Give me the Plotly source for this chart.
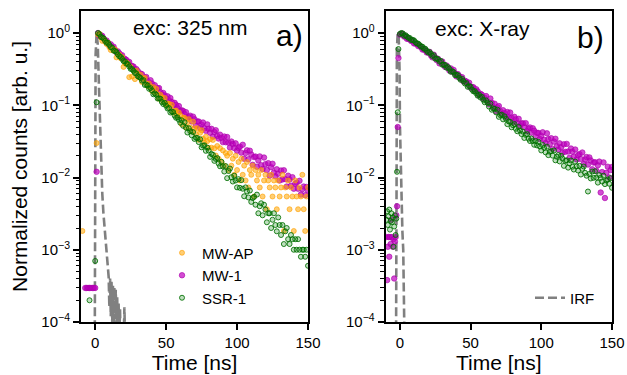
import plotly.graph_objects as go

# ---------------- data ----------------
# Panel a) exc: 325 nm  -- decay part, one value per ns starting at t = 2 ns
A_START = 2
a_mwap = [0.955, 0.979, 0.867, 0.778, 0.830, 0.773, 0.704, 0.737, 0.635, 0.58,
          0.626, 0.570, 0.592, 0.46, 0.508, 0.503, 0.446, 0.466, 0.34, 0.379,
          0.393, 0.381, 0.245, 0.341, 0.25, 0.303, 0.23, 0.303, 0.275, 0.244,
          0.265, 0.210, 0.234, 0.240, 0.202, 0.184, 0.200, 0.180, 0.157, 0.179,
          0.151, 0.169, 0.143, 0.123, 0.140, 0.129, 0.113, 0.126, 0.102, 0.106,
          0.105, 0.0925, 0.1016, 0.0790, 0.0837, 0.0847, 0.0714, 0.0792, 0.0723, 0.0546,
          0.0670, 0.0671, 0.0491, 0.0579, 0.0643, 0.0492, 0.0434, 0.0592, 0.0481, 0.0400,
          0.0481, 0.0332, 0.0416, 0.0452, 0.0345, 0.0305, 0.0367, 0.0318, 0.0258, 0.0339,
          0.0259, 0.0331, 0.0253, 0.0202,
          0.0273, 0.0182, 0.0255, 0.0164, 0.0237, 0.0146, 0.0218, 0.0200, 0.0127, 0.0218,
          0.0146, 0.0182, 0.0109, 0.0200, 0.0127, 0.0164, 0.0091, 0.0182, 0.0109, 0.0146,
          0.0091, 0.0164, 0.00728, 0.0127, 0.0109, 0.0146, 0.00546, 0.0127, 0.0091, 0.0109,
          0.00728, 0.0127, 0.00546, 0.0091, 0.0109, 0.00364, 0.0091, 0.00728, 0.0109, 0.00546,
          0.0091, 0.00728, 0.00364, 0.0091, 0.00546, 0.00728, 0.0109, 0.00182, 0.00728, 0.00546,
          0.0091, 0.00364, 0.00728, 0.00546, 0.00182, 0.0091, 0.00546, 0.00364, 0.00728, 0.00546,
          0.0109, 0.00364, 0.00182, 0.00546, 0.00728]
a_mwap_pre_t = [-9, 1]
a_mwap_pre = [0.00182, 0.03]

a_mw1 = [1.0, 0.913, 0.929, 0.913, 0.832, 0.781, 0.787, 0.736, 0.679, 0.697,
         0.634, 0.646, 0.587, 0.540, 0.557, 0.524, 0.486, 0.493, 0.440, 0.438,
         0.425, 0.393, 0.398, 0.351, 0.350, 0.343, 0.312, 0.317, 0.298, 0.260,
         0.275, 0.269, 0.233, 0.242, 0.246, 0.217, 0.201, 0.222, 0.200, 0.181,
         0.190, 0.161, 0.171, 0.173, 0.152, 0.141, 0.148, 0.137, 0.123, 0.133,
         0.117, 0.126, 0.111, 0.0988, 0.108, 0.101, 0.0913, 0.0974, 0.0829, 0.0850,
         0.0836, 0.0758, 0.0803, 0.0667, 0.0689, 0.0717, 0.0598, 0.0696, 0.0640, 0.0520,
         0.0596, 0.0595, 0.0483, 0.0539, 0.0577, 0.0481, 0.0443, 0.0544, 0.0473, 0.0417,
         0.0472, 0.0368, 0.0427, 0.0452, 0.0377, 0.0346, 0.0392, 0.0355, 0.0309, 0.0369,
         0.0308, 0.0364, 0.0304, 0.0260, 0.0315, 0.0290, 0.0256, 0.0297, 0.0235, 0.0257,
         0.0267, 0.0221, 0.0284, 0.0182, 0.0218, 0.0238, 0.0179, 0.0235, 0.0208, 0.0150,
         0.0192, 0.0195, 0.0141, 0.0172, 0.0196, 0.0148, 0.0131, 0.0189, 0.0153, 0.0127,
         0.0158, 0.0106, 0.0139, 0.0155, 0.0117, 0.0104, 0.0130, 0.0113, 0.0091, 0.0125,
         0.0094, 0.0126, 0.0095, 0.0075, 0.0106, 0.0094, 0.0077, 0.0101, 0.0070, 0.0082,
         0.0085, 0.0070, 0.0090, 0.0058, 0.0069, 0.0075, 0.0057, 0.0074, 0.0066]
a_mw1_pre_t = [-7, -6, -5, -4, -3, -2, -1, 0, 1]
a_mw1_pre = [2.96e-4, 2.96e-4, 2.96e-4, 2.96e-4, 2.96e-4, 2.96e-4, 2.96e-4, 2.96e-4, 0.012]

a_ssr1 = [1.0, 0.964, 0.885, 0.867, 0.842, 0.779, 0.733, 0.733, 0.683, 0.638,
          0.626, 0.571, 0.564, 0.546, 0.505, 0.476, 0.467, 0.439, 0.409, 0.406,
          0.376, 0.372, 0.344, 0.319, 0.318, 0.300, 0.280, 0.276, 0.253, 0.246,
          0.239, 0.219, 0.223, 0.191, 0.193, 0.188, 0.169, 0.173, 0.161, 0.142,
          0.146, 0.140, 0.124, 0.125, 0.123, 0.111, 0.104, 0.108, 0.0986, 0.0902,
          0.0916, 0.0794, 0.0817, 0.0805, 0.0720, 0.0671, 0.0681, 0.0630, 0.0573, 0.0620,
          0.0520, 0.0582, 0.0490, 0.0420, 0.0481, 0.0438, 0.0385, 0.0425, 0.0342, 0.0356,
          0.0352, 0.0309, 0.0338, 0.0262, 0.0277, 0.0279, 0.0234, 0.0259, 0.0236, 0.0193,
          0.0212, 0.0206, 0.0170, 0.0181, 0.0186, 0.0156, 0.0143, 0.0165, 0.0143, 0.0121,
          0.0144, 0.0098, 0.0123, 0.0133, 0.0101, 0.0088, 0.0106, 0.0091, 0.0073, 0.0095,
          0.0072, 0.0092, 0.0070, 0.0055, 0.0073, 0.0064, 0.0053, 0.0066, 0.0046, 0.0052,
          0.0054, 0.0042, 0.0058, 0.0032, 0.0040, 0.0044, 0.0030, 0.0042, 0.0036, 0.0024,
          0.0032, 0.0032, 0.0020, 0.0026, 0.0032, 0.0022, 0.0018, 0.0028, 0.0022, 0.0016,
          0.0022, 0.0012, 0.0018, 0.0020, 0.0014, 0.0012, 0.0016, 0.0014, 0.0010, 0.0014,
          0.0010, 0.0014, 0.0010, 0.0008, 0.0010, 0.0010, 0.0008, 0.0010, 0.0006]
a_ssr1_pre_t = [-4, 0, 1]
a_ssr1_pre = [2e-4, 7e-4, 0.11]

a_irf_t = [-0.4, -0.3, 0.3, 1.0, 1.8, 2.6, 3.4, 4.2, 5.0, 5.8, 6.5, 7.3, 8.1, 8.9,
           9.5, 10.0, 10.5, 11.0, 11.5, 12.0, 12.5, 13.0, 13.5, 14.0, 14.5, 15.0,
           15.5, 16.0, 16.5, 17.0, 17.5, 18.0, 19.0, 20.0, 20.6, 21.2, 22.0]
a_irf = [1e-5, 1e-4, 0.5, 1.0, 0.7, 0.2, 0.05, 0.0126, 0.006, 0.0032, 0.0021, 0.0012,
         0.0008, 0.00052, 0.00042, 0.00016, 0.0004, 0.00012, 0.00038, 0.0001, 0.00033,
         0.00009, 0.0003, 0.00011, 0.00028, 0.00008, 0.00022, 0.00007, 0.00018, 0.00006,
         0.00015, 0.00005, 0.00004, 0.00005, 0.00016, 0.00004, 0.00003]

# Panel b) exc: X-ray -- decay part, one value per ns starting at t = 0 ns
B_START = 0
b_mw1 = [0.95, 0.98, 0.97, 0.893, 0.904, 0.831, 0.831, 0.816, 0.775, 0.786,
         0.718, 0.718, 0.707, 0.659, 0.668, 0.637, 0.590, 0.594, 0.581, 0.538,
         0.539, 0.549, 0.490, 0.461, 0.502, 0.458, 0.422, 0.440, 0.380, 0.402,
         0.404, 0.362, 0.340, 0.355, 0.331, 0.303, 0.324, 0.291, 0.309, 0.277,
         0.251, 0.270, 0.254, 0.233, 0.245, 0.213, 0.218, 0.214, 0.196, 0.205,
         0.175, 0.179, 0.178, 0.159, 0.167, 0.156, 0.137, 0.144, 0.140, 0.123,
         0.127, 0.134, 0.113, 0.103, 0.124, 0.108, 0.0948, 0.105, 0.0826, 0.0939,
         0.0976, 0.0826, 0.0764, 0.0854, 0.0780, 0.0686, 0.0807, 0.0683, 0.0792, 0.0671,
         0.0582, 0.0692, 0.0638, 0.0567, 0.0649, 0.0521, 0.0559, 0.0564, 0.0501, 0.0566,
         0.0437, 0.0476, 0.0493, 0.0418, 0.0480, 0.0444, 0.0366, 0.0415, 0.0413, 0.0341,
         0.0377, 0.0423, 0.0333, 0.0300, 0.0409, 0.0340, 0.0289, 0.0350, 0.0249, 0.0314,
         0.0344, 0.0271, 0.0244, 0.0297, 0.0263, 0.0220, 0.0288, 0.0227, 0.0292, 0.0229,
         0.0188, 0.0252, 0.0228, 0.0194, 0.0244, 0.0178, 0.0204, 0.0211, 0.0180, 0.0222,
         0.0153, 0.0178, 0.0192, 0.0151, 0.0190, 0.0172, 0.0130, 0.0161, 0.0163, 0.0124,
         0.0148, 0.0166, 0.0062, 0.0119, 0.0162, 0.0052, 0.0116, 0.0141, 0.0100, 0.0127,
         0.0140]
b_mw1_pre_t = [-9.5, -9, -8.5, -8, -7.5, -7, -6.5, -6, -5.5, -5, -4.5, -4, -3.5, -3, -2.5,
               -2, -1.5, -1]
b_mw1_pre = [1.5e-3, 3.8e-4, 1.1e-3, 1.5e-3, 8e-4, 1.5e-3, 1.2e-3, 2.6e-3, 1.5e-3, 1.1e-3,
             1.4e-3, 4e-4, 1.3e-3, 1.5e-3, 3e-3, 0.004, 0.05, 0.45]

b_ssr1 = [0.97, 1.0, 0.99, 0.918, 0.933, 0.895, 0.857, 0.855, 0.801, 0.803,
          0.792, 0.748, 0.718, 0.713, 0.682, 0.649, 0.647, 0.608, 0.606, 0.569,
          0.537, 0.545, 0.516, 0.481, 0.492, 0.442, 0.443, 0.433, 0.403, 0.411,
          0.364, 0.366, 0.361, 0.331, 0.339, 0.320, 0.291, 0.296, 0.288, 0.262,
          0.264, 0.262, 0.239, 0.225, 0.233, 0.216, 0.200, 0.203, 0.180, 0.184,
          0.181, 0.165, 0.156, 0.157, 0.147, 0.136, 0.140, 0.128, 0.131, 0.119,
          0.110, 0.117, 0.108, 0.0960, 0.1057, 0.0868, 0.0904, 0.0895, 0.0798, 0.0869,
          0.0691, 0.0731, 0.0742, 0.0638, 0.0704, 0.0651, 0.0548, 0.0598, 0.0589, 0.0496,
          0.0530, 0.0550, 0.0473, 0.0437, 0.0502, 0.0446, 0.0400, 0.0432, 0.0353, 0.0389,
          0.0399, 0.0345, 0.0320, 0.0347, 0.0319, 0.0284, 0.0321, 0.0278, 0.0312, 0.0269,
          0.0237, 0.0282, 0.0257, 0.0223, 0.0267, 0.0204, 0.0227, 0.0232, 0.0201, 0.0237,
          0.0173, 0.0194, 0.0205, 0.0167, 0.0200, 0.0183, 0.0145, 0.0171, 0.0173, 0.0137,
          0.0157, 0.0172, 0.0141, 0.0129, 0.0166, 0.0143, 0.0125, 0.0145, 0.0110, 0.0132,
          0.0142, 0.0116, 0.0106, 0.0064, 0.0112, 0.0097, 0.0121, 0.0099, 0.0122, 0.0100,
          0.0085, 0.0108, 0.0099, 0.0088, 0.0106, 0.0081, 0.0091, 0.0094, 0.0082, 0.0098,
          0.0072]
b_ssr1_pre_t = [-9.5, -9, -8.5, -8, -7.5, -7, -6.5, -6, -5.5, -5, -4.5, -4, -3.5, -3, -2.5,
                -2, -1.5, -1]
b_ssr1_pre = [2.6e-3, 3.4e-3, 2.2e-3, 2.9e-3, 3.6e-3, 1.9e-3, 2.5e-3, 3.2e-3, 2.4e-3, 2.8e-3,
              1.1e-3, 2.1e-3, 3.0e-3, 1.6e-3, 2.7e-3, 0.012, 0.08, 0.6]

b_irf_t = [-2.8, -2.5, -2.3, -2.1, -1.5, -0.8, -0.2, 0.1, 0.5, 1.2, 1.8, 2.4, 3.0, 3.5, 3.8]
b_irf = [1e-5, 1e-4, 0.01, 0.6, 1.0, 0.9, 0.3, 0.05, 0.017, 0.0035, 0.0018, 0.001,
         0.00038, 0.0001, 1e-5]

ytick_vals = [1e-4, 1e-3, 1e-2, 1e-1, 1]
ytick_text = ["10<sup>\u22124</sup>", "10<sup>\u22123</sup>", "10<sup>\u22122</sup>",
              "10<sup>\u22121</sup>", "10<sup>0</sup>"]
xtick_vals = [0, 50, 100, 150]

# ---------------- styles ----------------
FONT = "Liberation Sans, Arial, sans-serif"
C_OR = dict(size=5, color="rgba(255,165,0,0.55)", line=dict(width=0.7, color="rgba(255,160,0,0.9)"))
C_MG = dict(size=5.5, color="rgba(191,0,191,0.7)", line=dict(width=0.7, color="rgba(170,0,170,0.9)"))
C_GR = dict(size=5, color="rgba(0,128,0,0.25)", line=dict(width=0.9, color="rgba(0,110,0,0.95)"))
IRF_LINE = dict(color="#808080", width=2.6, dash="9px,4px")


def grid(start, vals):
    return [start + i for i in range(len(vals))]


fig = go.Figure()

# panel a
fig.add_trace(go.Scatter(x=a_irf_t, y=a_irf, mode="lines", line=IRF_LINE, showlegend=False,
                         xaxis="x", yaxis="y"))
fig.add_trace(go.Scatter(x=a_mw1_pre_t + grid(A_START, a_mw1), y=a_mw1_pre + a_mw1,
                         mode="markers", marker=C_MG, name="MW-1", legend="legend",
                         legendrank=2, xaxis="x", yaxis="y"))
fig.add_trace(go.Scatter(x=a_mwap_pre_t + grid(A_START, a_mwap), y=a_mwap_pre + a_mwap,
                         mode="markers", marker=C_OR, name="MW-AP", legend="legend",
                         legendrank=1, xaxis="x", yaxis="y"))
fig.add_trace(go.Scatter(x=a_ssr1_pre_t + grid(A_START, a_ssr1), y=a_ssr1_pre + a_ssr1,
                         mode="markers", marker=C_GR, name="SSR-1", legend="legend",
                         legendrank=3, xaxis="x", yaxis="y"))

# panel b
fig.add_trace(go.Scatter(x=b_irf_t, y=b_irf, mode="lines", line=IRF_LINE, name="IRF",
                         legend="legend2", showlegend=True, xaxis="x2", yaxis="y2"))
fig.add_trace(go.Scatter(x=b_mw1_pre_t + grid(B_START, b_mw1), y=b_mw1_pre + b_mw1,
                         mode="markers", marker=C_MG, showlegend=False, xaxis="x2", yaxis="y2"))
fig.add_trace(go.Scatter(x=b_ssr1_pre_t + grid(B_START, b_ssr1), y=b_ssr1_pre + b_ssr1,
                         mode="markers", marker=C_GR, showlegend=False, xaxis="x2", yaxis="y2"))

minor_vals = [m * 10 ** e for e in range(-4, 0) for m in range(2, 10)]

xcommon = dict(range=[-10, 150], tickvals=xtick_vals, showline=True, linecolor="black",
               linewidth=2, mirror=True, ticks="outside", ticklen=6, tickwidth=2,
               tickcolor="black", showgrid=False, zeroline=False, automargin=False,
               tickfont=dict(size=15, color="black", family=FONT),
               title=dict(text="Time [ns]", font=dict(size=21, color="black", family=FONT),
                          standoff=3))
ycommon = dict(type="log", range=[-4, 0.305], tickvals=ytick_vals, ticktext=ytick_text,
               showline=True, linecolor="black", linewidth=2, mirror=True, ticks="outside",
               ticklen=6, tickwidth=2, tickcolor="black", showgrid=False, zeroline=False,
               automargin=False,
               tickfont=dict(size=15, color="black", family=FONT),
               minor=dict(tickvals=minor_vals, ticks="outside", ticklen=3.5, tickwidth=1.3,
                          tickcolor="black", showgrid=False))

L, R, T, B = 81, 15, 11, 53
PW = 627 - L - R
PH = 375 - T - B


def px(xp):
    return (xp - L) / PW


def py(yp):
    return (375 - B - yp) / PH


fig.update_layout(
    width=627, height=375,
    margin=dict(l=L, r=R, t=T, b=B, autoexpand=False),
    paper_bgcolor="white", plot_bgcolor="white",
    font=dict(family=FONT, color="black"),
    xaxis=dict(domain=[0, px(308)], anchor="y", **xcommon),
    xaxis2=dict(domain=[px(385.7), 1], anchor="y2", **xcommon),
    yaxis=dict(domain=[0, 1], anchor="x",
               title=dict(text="Normalized counts [arb. u.]",
                          font=dict(size=21, color="black", family=FONT), standoff=8),
               **ycommon),
    yaxis2=dict(domain=[0, 1], anchor="x2", **ycommon),
    legend=dict(x=px(162), y=py(275.5), xanchor="left", yanchor="middle",
                bgcolor="rgba(0,0,0,0)", font=dict(size=15, family=FONT),
                itemsizing="trace", tracegroupgap=0),
    legend2=dict(x=px(530), y=py(298), xanchor="left", yanchor="middle",
                 bgcolor="rgba(0,0,0,0)", font=dict(size=15, family=FONT)),
    annotations=[
        dict(text="exc: 325 nm", x=px(190), y=py(27), xref="paper", yref="paper",
             showarrow=False, xanchor="center", yanchor="middle",
             font=dict(size=21, family=FONT, color="black")),
        dict(text="a)", x=px(289), y=py(36), xref="paper", yref="paper",
             showarrow=False, xanchor="center", yanchor="middle",
             font=dict(size=30, family=FONT, color="black")),
        dict(text="exc: X-ray", x=px(482), y=py(28), xref="paper", yref="paper",
             showarrow=False, xanchor="center", yanchor="middle",
             font=dict(size=21, family=FONT, color="black")),
        dict(text="b)", x=px(590), y=py(37), xref="paper", yref="paper",
             showarrow=False, xanchor="center", yanchor="middle",
             font=dict(size=30, family=FONT, color="black")),
    ],
)

fig.write_html("out.html", config={"displayModeBar": False},
               post_script="document.body.style.margin='0px';")
